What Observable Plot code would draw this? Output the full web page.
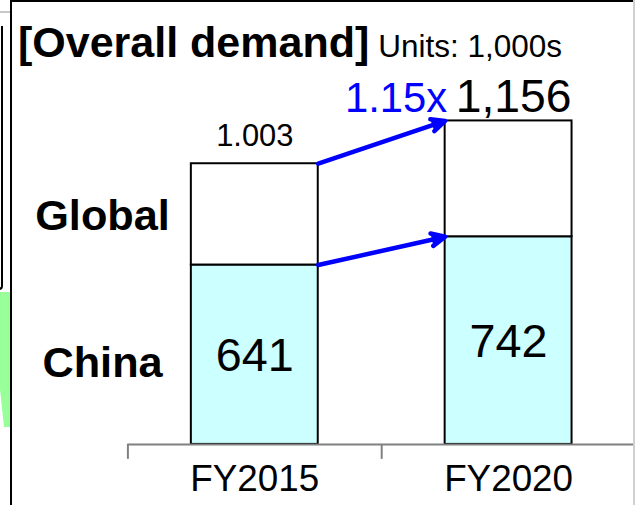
<!DOCTYPE html>
<html><head><meta charset="utf-8">
<script src="https://cdn.jsdelivr.net/npm/d3@7"></script>
<script src="https://cdn.jsdelivr.net/npm/@observablehq/plot@0.6"></script>
<style>
html,body{margin:0;padding:0;background:#fff;overflow:hidden}
#wrap{position:relative;width:635px;height:505px;overflow:hidden;font-family:"Liberation Sans",Arial,sans-serif;background:#fff}
#chart{position:absolute;left:0;top:0}
.deco{position:absolute}
#title{position:absolute;left:18px;top:21px;white-space:nowrap;line-height:43px;color:#000}
#title b{font-size:43px;font-weight:bold}
#title span{font-size:31.5px;margin-left:9px}
</style></head><body>
<div id="wrap">
 <div id="chart"></div>
 <div id="title"><b>[Overall demand]</b><span>Units: 1,000s</span></div>
 <div class="deco" style="left:0;top:11px;width:10px;height:2px;background:#c8c8c8"></div>
 <div class="deco" style="left:-20px;top:26px;width:21px;height:262px;border-right:2px solid #000;border-bottom:2px solid #000;border-bottom-right-radius:4px"></div>
 <div class="deco" style="left:0;top:292px;width:10px;height:135px;background:#99ff99;clip-path:polygon(0 0,100% 0,100% 100%,40% 100%,0 72%)"></div>
 <div class="deco" style="left:10px;top:0;width:2px;height:505px;background:#000"></div>
 <div class="deco" style="left:10px;top:0;width:625px;height:2px;background:#000"></div>
 <div class="deco" style="left:633px;top:0;width:2px;height:505px;background:#d0d0d0"></div>
</div>
<script>
const categories = ["FY2015", "FY2020"];
const seriesNames = ["China", "Global"];
const chinaValues = [641, 742];
const totalValues = [1003, 1156];
const chinaLabels = ["641", "742"];
const totalLabels = ["1.003", "1,156"];
const growthLabel = "1.15x";
const seriesColors = ["#CCFFFF", "#FFFFFF"];

// layout in slot units: each category occupies one slot [i, i+1]; bars fill the middle half
const HALF = 0.25;
const center = i => i + 0.5;

const rows = [];
categories.forEach((c, i) => {
  rows.push({slot: i, series: "China", value: chinaValues[i]});
  rows.push({slot: i, series: "Global", value: totalValues[i] - chinaValues[i]});
});
const chinaRows = categories.map((c, i) => ({slot: i, mid: chinaValues[i] / 2, label: chinaLabels[i]}));
const totalRows = categories.map((c, i) => ({slot: i, total: totalValues[i], label: totalLabels[i]}));
const globalLabelRow = {slot: 0, text: seriesNames[1], mid: (chinaValues[0] + totalValues[0]) / 2};
const chinaLabelRow = {slot: 0, text: seriesNames[0], mid: chinaValues[0] / 2};
const arrowRows = [
  {from: totalValues[0], to: totalValues[1]},
  {from: chinaValues[0], to: chinaValues[1]}
];

const chart = Plot.plot({
  width: 638, height: 505,
  marginLeft: 128, marginRight: 0, marginTop: 121, marginBottom: 59,
  style: {background: "transparent", fontFamily: "Liberation Sans, Arial, sans-serif", color: "#000", overflow: "visible"},
  x: {domain: [0, categories.length], label: null},
  y: {domain: [0, d3.max(totalValues)], axis: null},
  color: {domain: seriesNames, range: seriesColors},
  marks: [
    Plot.rectY(rows, {x1: d => center(d.slot) - HALF, x2: d => center(d.slot) + HALF, y: "value", fill: "series", stroke: "#000", strokeWidth: 2}),
    Plot.ruleY([0], {stroke: "#808080", strokeWidth: 2}),
    Plot.axisX({ticks: d3.range(categories.length + 1), tickSize: 15, tickFormat: () => "", stroke: "#808080", strokeWidth: 2}),
    Plot.axisX({ticks: categories.map((c, i) => center(i)), tickSize: 0, tickPadding: 21, fontSize: 37, fill: "#000", tickFormat: v => categories[Math.floor(v)]}),
    Plot.text(chinaRows, {x: d => center(d.slot), y: "mid", text: "label", fontSize: 47, dy: 1, fill: "#000"}),
    Plot.text([totalRows[0]], {x: d => center(d.slot), y: "total", text: "label", fontSize: 31, lineAnchor: "bottom", dy: -18, fill: "#000"}),
    Plot.text([totalRows[1]], {x: d => center(d.slot), y: "total", text: "label", fontSize: 46.5, lineAnchor: "bottom", dy: -9, dx: 5, fill: "#000"}),
    Plot.text([growthLabel], {x: () => center(1) - HALF, y: () => totalValues[1], text: d => d, fontSize: 42, lineAnchor: "bottom", textAnchor: "end", dy: -9, dx: 2, fill: "#0000FF"}),
    Plot.text([globalLabelRow], {x: d => center(d.slot) - 0.6, y: "mid", text: "text", fontSize: 43.5, fontWeight: "bold", dy: 2, fill: "#000"}),
    Plot.text([chinaLabelRow], {x: d => center(d.slot) - 0.6, y: "mid", text: "text", fontSize: 43.5, fontWeight: "bold", dy: 8, fill: "#000"}),
    Plot.arrow(arrowRows, {
      x1: () => center(0) + HALF, x2: () => center(1) - HALF, y1: "from", y2: "to",
      stroke: "#0000FF", fill: "#0000FF", strokeWidth: 4.5, headLength: 5, headAngle: 50
    })
  ]
});
document.getElementById("chart").appendChild(chart);
</script>
</body></html>
